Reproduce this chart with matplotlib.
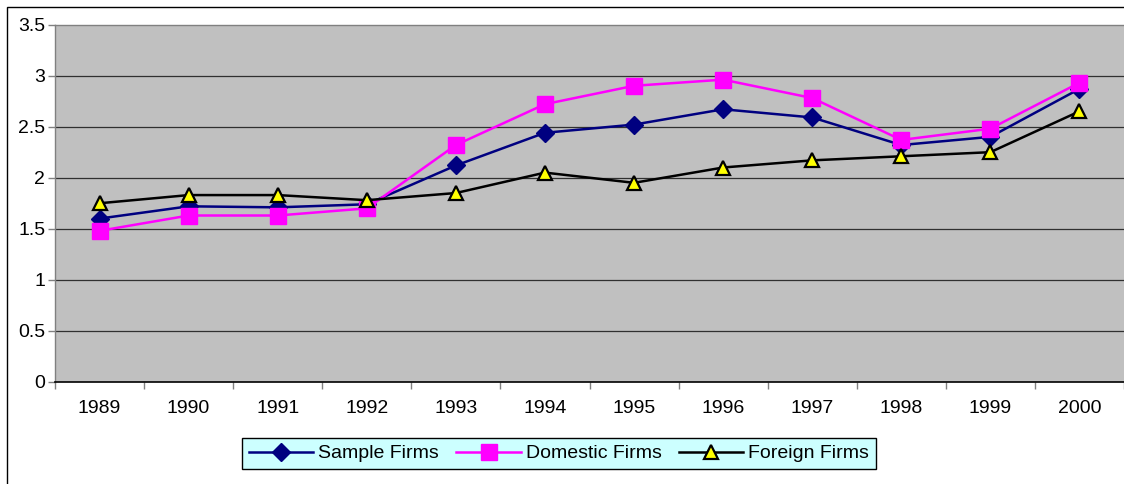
import numpy as np
import matplotlib.pyplot as plt
from matplotlib.patches import Rectangle

plt.rcParams['font.family'] = ['Liberation Sans', 'DejaVu Sans']

years = ['1989', '1990', '1991', '1992', '1993', '1994',
         '1995', '1996', '1997', '1998', '1999', '2000']
sample = [1.60, 1.72, 1.71, 1.74, 2.12, 2.44, 2.52, 2.67, 2.59, 2.32, 2.40, 2.87]
domestic = [1.48, 1.63, 1.63, 1.70, 2.32, 2.72, 2.90, 2.96, 2.78, 2.37, 2.48, 2.93]
foreign = [1.75, 1.83, 1.83, 1.78, 1.85, 2.05, 1.95, 2.10, 2.17, 2.21, 2.25, 2.65]

W, H = 1124, 484
fs = 14
fig = plt.figure(figsize=(W / 100, H / 100), dpi=100)
fig.patch.set_facecolor('white')

# outer chart border (cropped on right and bottom)
fig.patches.append(Rectangle((7 / W, -0.1), 1.2, 1.1 - 7 / H,
                             transform=fig.transFigure, fill=False,
                             edgecolor='black', linewidth=1.0))

ax = fig.add_axes([55 / W, (H - 382) / H, (W - 55) / W, (382 - 24.5) / H])
ax.set_facecolor('#C0C0C0')

x = np.arange(len(years))
ax.plot(x, sample, color='#000080', lw=1.8, marker='D', ms=9,
        mfc='#000080', mec='#000080', label='Sample Firms', zorder=3)
ax.plot(x, domestic, color='#FF00FF', lw=1.8, marker='s', ms=11,
        mfc='#FF00FF', mec='#FF00FF', label='Domestic Firms', zorder=4)
ax.plot(x, foreign, color='black', lw=1.8, marker='^', ms=10,
        mfc='#FFFF00', mec='black', mew=1.6, label='Foreign Firms', zorder=5)

ax.set_ylim(0, 3.5)
ax.set_xlim(-0.5, 11.42)
yt = np.arange(0, 3.51, 0.5)
ax.set_yticks(yt)
ax.set_yticklabels(['%g' % v for v in yt])
for v in yt[1:-1]:
    ax.axhline(v, color='#303030', lw=0.9, zorder=1)

ax.set_xticks(x)
ax.set_xticklabels(years)
ax.set_xticks(np.arange(-0.5, 12, 1), minor=True)
ax.tick_params(axis='x', which='major', length=0, pad=13, labelsize=fs)
ax.tick_params(axis='x', which='minor', length=5, color='#808080', width=1)
ax.tick_params(axis='y', length=5, color='#808080', width=1, pad=2, labelsize=fs)

ax.spines['right'].set_visible(False)
ax.spines['top'].set_color('#808080')
ax.spines['left'].set_color('#808080')
ax.spines['bottom'].set_color('black')
ax.spines['top'].set_linewidth(1)
ax.spines['left'].set_linewidth(1)
ax.spines['bottom'].set_linewidth(1.2)

leg = fig.legend(loc='center', bbox_to_anchor=(559 / W, 1 - 453.5 / H),
                 ncol=3, frameon=True, fancybox=False, fontsize=fs,
                 handlelength=3.3, handletextpad=0.25, columnspacing=0.9,
                 borderpad=0.35, borderaxespad=0)
leg.get_frame().set_facecolor('#CCFFFF')
leg.get_frame().set_edgecolor('black')
leg.get_frame().set_linewidth(1)
leg.get_frame().set_alpha(1)

fig.savefig('out.png', dpi=100)
